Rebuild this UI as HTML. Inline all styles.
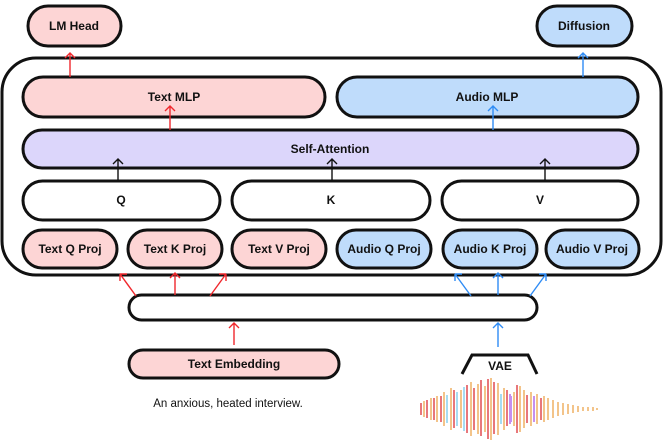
<!DOCTYPE html>
<html><head><meta charset="utf-8"><style>
body{margin:0;background:#fff;}
svg text{font-family:"Liberation Sans",sans-serif;font-weight:bold;font-size:12px;text-anchor:middle;dominant-baseline:central;fill:#111}
</style></head><body>
<svg width="665" height="442" viewBox="0 0 665 442" xmlns="http://www.w3.org/2000/svg">
<defs>
<marker id="r" markerWidth="10" markerHeight="10" refX="5" refY="1" orient="auto-start-reverse" markerUnits="userSpaceOnUse" viewBox="0 0 10 10"><path d="M0,6 L5,1 L10,6" fill="none" stroke="#f0282d" stroke-width="1.3"/></marker>
</defs>
<g stroke="#111" stroke-width="3">
<rect x="2" y="58" width="659" height="217" rx="34" fill="#fff"/>
<rect x="28" y="6" width="93" height="40" rx="20" fill="#fdd5d5"/>
<rect x="537" y="6" width="95" height="40" rx="20" fill="#bfdcfb"/>
<rect x="23" y="77" width="302" height="40" rx="20" fill="#fdd5d5"/>
<rect x="337" y="77" width="301" height="40" rx="20" fill="#bfdcfb"/>
<rect x="23" y="130" width="615" height="38" rx="19" fill="#dcd6fb"/>
<rect x="23" y="181" width="197" height="39" rx="19.5" fill="#fff"/>
<rect x="232" y="181" width="198" height="39" rx="19.5" fill="#fff"/>
<rect x="442" y="181" width="196" height="39" rx="19.5" fill="#fff"/>
<rect x="23" y="230" width="94" height="38" rx="19" fill="#fdd5d5"/>
<rect x="128" y="230" width="94" height="38" rx="19" fill="#fdd5d5"/>
<rect x="232" y="230" width="94" height="38" rx="19" fill="#fdd5d5"/>
<rect x="337" y="230" width="94" height="38" rx="19" fill="#bfdcfb"/>
<rect x="443" y="230" width="94" height="38" rx="19" fill="#bfdcfb"/>
<rect x="546" y="230" width="93" height="38" rx="19" fill="#bfdcfb"/>
<rect x="129" y="295" width="408" height="25" rx="12.5" fill="#fff"/>
<rect x="129" y="350" width="210" height="28" rx="14" fill="#fdd5d5"/>
<path d="M462,374 L472,355 L528,355 L537,374" fill="none"/>
</g>
<g fill="none" stroke-width="1.4">
<g stroke="#f0282d">
<path d="M70,77V53M65,58l5-5 5,5"/>
<path d="M170,130V106M165,111l5-5 5,5"/>
<path d="M175,295V273M170,278l5-5 5,5"/>
<path d="M136,296L120,274M120,274v7M120,274h7"/>
<path d="M210,296L226,274M226,274v7M226,274h-7"/>
<path d="M234,345V323M229,328l5-5 5,5"/>
</g>
<g stroke="#2f8cf5">
<path d="M583,77V53M578,58l5-5 5,5"/>
<path d="M493,130V106M488,111l5-5 5,5"/>
<path d="M498,295V273M493,278l5-5 5,5"/>
<path d="M471,296L455,274M455,274v7M455,274h7"/>
<path d="M530,296L546,274M546,274v7M546,274h-7"/>
<path d="M498,347V323M493,328l5-5 5,5"/>
</g>
<g stroke="#111">
<path d="M118,181V159M113,164l5-5 5,5"/>
<path d="M332,181V159M327,164l5-5 5,5"/>
<path d="M545,181V159M540,164l5-5 5,5"/>
</g>
</g>
<text x="74" y="26">LM Head</text>
<text x="584" y="26">Diffusion</text>
<text x="174" y="97">Text MLP</text>
<text x="487" y="97">Audio MLP</text>
<text x="330" y="149">Self-Attention</text>
<text x="121" y="200">Q</text>
<text x="331" y="200">K</text>
<text x="540" y="200">V</text>
<text x="70" y="249">Text Q Proj</text>
<text x="175" y="249">Text K Proj</text>
<text x="279" y="249">Text V Proj</text>
<text x="384" y="249">Audio Q Proj</text>
<text x="490" y="249">Audio K Proj</text>
<text x="592" y="249">Audio V Proj</text>
<text x="234" y="364">Text Embedding</text>
<text x="500" y="366">VAE</text>
<text x="228" y="404" style="font-weight:normal;font-size:11.5px">An anxious, heated interview.</text>
<g stroke-width="2">
<g stroke="#e8777c">
<path d="M421,403v12M427,400v18M434,398v22M441,396v26M454,390v38M467,385v48M474,388v42M481,380v56M488,379v60M494,382v52M507,390v36M517,385v48M527,395v28M541,398v22"/>
</g>
<g stroke="#f3c48a">
<path d="M424,401v16M431,398v22M437,396v26M444,392v34M451,388v42M461,390v38M471,382v54M478,384v50M485,386v46M491,378v62M498,383v52M504,388v42M514,392v34M520,386v46M524,390v38M531,392v34M537,394v30M544,396v26M548,398v22M553,400v18M558,402v14M563,403v12M568,404v10M573,405v8M578,406v6M583,407v4M588,407v4M593,407v4M597,408v2"/>
</g>
<g stroke="#a6dcf2">
<path d="M447,395v28M457,392v34M464,387v44M501,394v30"/>
</g>
<g stroke="#c58ff0">
<path d="M510,394v30M534,396v26M511,396v26"/>
</g>
</g>
</svg>
</body></html>
